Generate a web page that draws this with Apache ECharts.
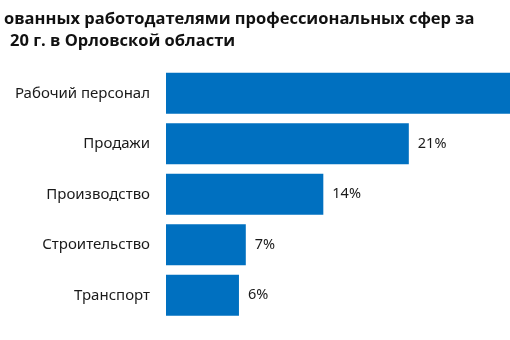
<!DOCTYPE html>
<html>
<head>
<meta charset="utf-8">
<script src="https://cdn.jsdelivr.net/npm/echarts@6/dist/echarts.min.js"></script>
<style>html,body{margin:0;padding:0;background:#fff}#c{width:510px;height:340px}</style>
</head>
<body>
<div id="c"></div>
<script>
var titleLine1 = 'ованных работодателями профессиональных сфер за';
var titleLine2 = '20 г. в Орловской области';
var categories = ['Рабочий персонал', 'Продажи', 'Производство', 'Строительство', 'Транспорт'];
var values = [33, 21.3, 13.8, 7.0, 6.4];

var chart = echarts.init(document.getElementById('c'), null, {renderer: 'canvas'});
chart.setOption({
  animation: false,
  backgroundColor: '#ffffff',
  title: [
    {text: titleLine1, left: -1, top: 6, textStyle: {fontFamily: 'Open Sans', fontWeight: 'bold', fontSize: 16.5, color: '#111'}},
    {text: titleLine2, left: 5, top: 28, textStyle: {fontFamily: 'Open Sans', fontWeight: 'bold', fontSize: 16.5, color: '#111'}}
  ],
  grid: {left: 166, top: 68, height: 252.5, width: 456, containLabel: false, outerBoundsMode: 'none'},
  xAxis: {type: 'value', min: 0, max: 40, show: false},
  yAxis: {
    type: 'category', data: categories, inverse: true,
    axisLine: {show: false}, axisTick: {show: false},
    axisLabel: {margin: 16, fontFamily: 'Noto Sans', fontSize: 15, color: '#1a1a1a'}
  },
  series: [{
    type: 'bar', data: values, barCategoryGap: '19%',
    itemStyle: {color: '#0070C0'},
    label: {show: true, position: 'right', distance: 9, fontFamily: 'Noto Sans', fontSize: 14.5, color: '#1a1a1a',
      formatter: function (p) { return Math.round(p.value) + '%'; }}
  }]
});
</script>
</body>
</html>
